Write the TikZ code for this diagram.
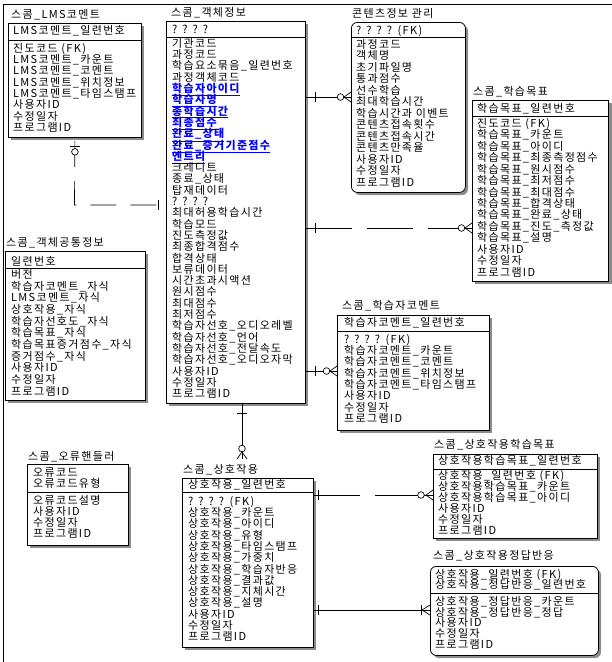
\documentclass[tikz,border=0pt]{standalone}
\usepackage{fontspec}
\setmainfont[LetterSpace=12]{Noto Sans CJK KR}
\newcommand\fsz{\fontsize{11}{11.3}\selectfont}
\newcommand\attfont[1]{\fontsize{11}{#1}\selectfont\lineskiplimit=-20pt\relax}
\tikzset{
  box/.style={draw, line width=0.8pt, fill=white, anchor=north west, inner sep=0pt},
  rbox/.style={box, rounded corners=6pt},
  shd/.style={fill=black!45},
  ttl/.style={anchor=west, inner sep=0pt, font=\fsz},
  hdr/.style={anchor=west, inner sep=0pt, font=\fsz},
  att/.style={anchor=north west, align=left, inner sep=0pt, font=\attfont{#1}},
  sepl/.style={line width=0.8pt},
  rel/.style={line width=0.7pt},
  reld/.style={line width=0.7pt, dash pattern=on 46pt off 15pt},
}
\newcommand\B[1]{{\color{blue}\bfseries\underline{#1}}}
\begin{document}
\begin{tikzpicture}[x=1pt,y=-1pt]
\useasboundingbox (0,0) rectangle (612,662);
\draw[line width=0.8pt] (3,662) -- (3,4) -- (612,4);

% ---------- LMS comment
\fill[shd] (11,26) rectangle (144,140);
\node[box, minimum width=133pt, minimum height=114pt] (lms) at (8,23) {};
\node[ttl] (lmsT) at (11,15) {스콤\_LMS코멘트};
\node[hdr] (lmsK) at (13,31) {LMS코멘트\_일련번호};
\draw[sepl] (lms.west |- 0,40) -- (lms.east |- 0,40);
\node[att=11.3] (lmsA) at (13,43) {진도코드 (FK)\\LMS코멘트\_카운트\\LMS코멘트\_코멘트\\LMS코멘트\_위치정보\\LMS코멘트\_타임스탬프\\사용자ID\\수정일자\\프로그램ID};

% ---------- object info
\fill[shd] (169,24) rectangle (308,406);
\node[box, minimum width=139pt, minimum height=382pt] (obj) at (166,21) {};
\node[ttl] (objT) at (171,13) {스콤\_객체정보};
\node[hdr] (objK) at (172,29) {? ? ? ?};
\draw[sepl] (obj.west |- 0,37) -- (obj.east |- 0,37);
\node[att=11.3] (objA) at (172,38) {기관코드\\과정코드\\학습요소묶음\_일련번호\\과정객체코드\\\B{학습자아이디}\\\B{학습자명}\\\B{총학습시간}\\\B{최종점수}\\\B{완료\_상태}\\\B{완료\_증거기준점수}\\\B{엔트리}\\크레디트\\종료\_상태\\탑재데이터\\? ? ? ?\\최대허용학습시간\\학습모드\\진도측정값\\최종합격점수\\합격상태\\보류데이터\\시간초과시액션\\원시점수\\최대점수\\최저점수\\학습자선호\_오디오레벨\\학습자선호\_언어\\학습자선호\_전달속도\\학습자선호\_오디오자막\\사용자ID\\수정일자\\프로그램ID};

% ---------- contents info
\fill[shd, rounded corners=6pt] (354,25) rectangle (468,195);
\node[rbox, minimum width=114pt, minimum height=170pt] (cont) at (351,22) {};
\node[ttl] (contT) at (352,13) {콘텐츠정보 관리};
\node[hdr] (contK) at (356,31) {? ? ? ?\enspace (FK)};
\draw[sepl] (cont.west |- 0,37) -- (cont.east |- 0,37);
\node[att=11.5] (contA) at (356,39) {과정코드\\객체명\\초기파일명\\통과점수\\선수학습\\최대학습시간\\학습시간과 이벤트\\콘텐츠접속횟수\\콘텐츠접속시간\\콘텐츠만족율\\사용자ID\\수정일자\\프로그램ID};

% ---------- learning objective
\fill[shd] (475,103) rectangle (612,284);
\node[box, minimum width=136pt, minimum height=181pt] (lo) at (472,100) {};
\node[ttl] (loT) at (473,92) {스콤\_학습목표};
\node[hdr] (loK) at (477,109) {학습목표\_일련번호};
\draw[sepl] (lo.west |- 0,116) -- (lo.east |- 0,116);
\node[att=11.46] (loA) at (477,118) {진도코드 (FK)\\학습목표\_카운트\\학습목표\_아이디\\학습목표\_최종측정점수\\학습목표\_원시점수\\학습목표\_최저점수\\학습목표\_최대점수\\학습목표\_합격상태\\학습목표\_완료\_상태\\학습목표\_진도\_측정값\\학습목표\_설명\\사용자ID\\수정일자\\프로그램ID};

% ---------- object common info
\fill[shd] (8,254) rectangle (148,403);
\node[box, minimum width=140pt, minimum height=149pt] (com) at (5,251) {};
\node[ttl] (comT) at (6,243) {스콤\_객체공통정보};
\node[hdr] (comK) at (11,261) {일련번호};
\draw[sepl] (com.west |- 0,268) -- (com.east |- 0,268);
\node[att=11.7] (comA) at (11,269) {버전\\학습자코멘트\_자식\\LMS코멘트\_자식\\상호작용\_자식\\학습자선호도\_자식\\학습목표\_자식\\학습목표증거점수\_자식\\증거점수\_자식\\사용자ID\\수정일자\\프로그램ID};

% ---------- learner comment
\fill[shd] (340,318) rectangle (492,433);
\node[box, minimum width=152pt, minimum height=115pt] (lc) at (337,315) {};
\node[ttl] (lcT) at (342,306) {스콤\_학습자코멘트};
\node[hdr] (lcK) at (344,323) {학습자코멘트\_일련번호};
\draw[sepl] (lc.west |- 0,331) -- (lc.east |- 0,331);
\node[att=11.3] (lcA) at (344,334) {? ? ? ?\enspace (FK)\\학습자코멘트\_카운트\\학습자코멘트\_코멘트\\학습자코멘트\_위치정보\\학습자코멘트\_타임스탬프\\사용자ID\\수정일자\\프로그램ID};

% ---------- error handler
\fill[shd] (30,467) rectangle (131,548);
\node[box, minimum width=101pt, minimum height=81pt] (err) at (27,464) {};
\node[ttl] (errT) at (28,457) {스콤\_오류핸들러};
\node[att=10.6] (errK) at (33,468) {오류코드\\오류코드유형};
\draw[sepl] (err.west |- 0,492) -- (err.east |- 0,492);
\node[att=11] (errA) at (33,495) {오류코드설명\\사용자ID\\수정일자\\프로그램ID};

% ---------- interaction
\fill[shd] (185,481) rectangle (316,650);
\node[box, minimum width=131pt, minimum height=169pt] (int) at (182,478) {};
\node[ttl] (intT) at (183,470) {스콤\_상호작용};
\node[hdr] (intK) at (188,485) {상호작용\_일련번호};
\draw[sepl] (int.west |- 0,492) -- (int.east |- 0,492);
\node[att=11.3] (intA) at (188,496) {? ? ? ?\enspace (FK)\\상호작용\_카운트\\상호작용\_아이디\\상호작용\_유형\\상호작용\_타임스탬프\\상호작용\_가중치\\상호작용\_학습자반응\\상호작용\_결과값\\상호작용\_지체시간\\상호작용\_설명\\사용자ID\\수정일자\\프로그램ID};

% ---------- interaction learning objective
\fill[shd] (436,457) rectangle (600,541);
\node[box, minimum width=164pt, minimum height=84pt] (ilo) at (433,454) {};
\node[ttl] (iloT) at (434,445) {스콤\_상호작용학습목표};
\node[hdr] (iloK) at (438,461) {상호작용학습목표\_일련번호};
\draw[sepl] (ilo.west |- 0,469) -- (ilo.east |- 0,469);
\node[att=11] (iloA) at (438,470) {상호작용\_일련번호 (FK)\\상호작용학습목표\_카운트\\상호작용학습목표\_아이디\\사용자ID\\수정일자\\프로그램ID};

% ---------- interaction correct response
\fill[shd, rounded corners=6pt] (433,569) rectangle (601,658);
\node[rbox, minimum width=168pt, minimum height=89pt] (ans) at (430,566) {};
\node[ttl] (ansT) at (433,556) {스콤\_상호작용정답반응};
\node[att=10.2] (ansK) at (435,569) {상호작용\_일련번호 (FK)\\상호작용\_정답반응\_일련번호};
\draw[sepl] (ans.west |- 0,593) -- (ans.east |- 0,593);
\node[att=10.8] (ansA) at (435,596) {상호작용\_정답반응\_카운트\\상호작용\_정답반응\_정답\\사용자ID\\수정일자\\프로그램ID};

% ================= connectors
% LMS -> object
\coordinate (k1) at (74.5,205);
\draw[line width=0.7pt, dash pattern=on 26pt off 14pt] ([yshift=-3pt]lms.south) -- (k1) -- (k1 -| obj.west);
\draw[rel] ([yshift=-9pt]lms.south) ++(-5,0) -- ++(10,0);
\draw[rel, fill=white] ([yshift=-14pt]lms.south) circle (3.3);
\draw[rel] (k1 -| obj.west) ++(-8,-5) -- ++(0,10);

% object -> contents (identifying)
\coordinate (k2) at (0,97);
\draw[rel] (obj.east |- k2) -- (cont.west |- k2);
\draw[rel] (obj.east |- k2) ++(10,-5) -- ++(0,10);
\draw[rel] (cont.west |- k2) ++(0,-5) -- ++(-7,5) -- ++(7,5);
\draw[rel, fill=white] (cont.west |- k2) ++(-10.5,0) circle (3.3);

% object -> learning objective
\coordinate (k3) at (0,228);
\draw[reld] (obj.east |- k3) -- (lo.west |- k3);
\draw[rel] (obj.east |- k3) ++(10,-5) -- ++(0,10);
\draw[rel] (lo.west |- k3) ++(-14,0) -- (lo.west |- k3);
\draw[rel] (lo.west |- k3) ++(0,-5) -- ++(-7,5) -- ++(7,5);
\draw[rel, fill=white] (lo.west |- k3) ++(-10.5,0) circle (3.3);

% object -> learner comment
\coordinate (k4) at (0,371);
\draw[rel] (obj.east |- k4) -- (lc.west |- k4);
\draw[rel] (obj.east |- k4) ++(10,-5) -- ++(0,10);
\draw[rel] (lc.west |- k4) ++(0,-5) -- ++(-7,5) -- ++(7,5);
\draw[rel, fill=white] (lc.west |- k4) ++(-10.5,0) circle (3.3);

% object -> interaction
\coordinate (k5) at (242,0);
\coordinate (k5e) at (242,459);
\draw[rel] (obj.south -| k5) -- (k5e);
\draw[rel] ([yshift=-10pt]obj.south -| k5) ++(-5,0) -- ++(10,0);
\draw[rel] (k5e) ++(-5,0) -- ++(5,-7) -- ++(5,7);
\draw[rel, fill=white] (k5e) ++(0,-10.5) circle (3.3);

% interaction -> interaction learning objective
\coordinate (k6) at (0,495);
\draw[reld] (int.east |- k6) -- (ilo.west |- k6);
\draw[rel] (ilo.west |- k6) ++(-18,0) -- (ilo.west |- k6);
\draw[rel] (int.east |- k6) ++(5,-5) -- ++(0,10);
\draw[rel] (ilo.west |- k6) ++(0,-5) -- ++(-7,5) -- ++(7,5);
\draw[rel, fill=white] (ilo.west |- k6) ++(-12,0) circle (3.3);

% interaction -> correct response (identifying)
\coordinate (k7) at (0,610);
\draw[rel] (int.east |- k7) -- (ans.west |- k7);
\draw[rel] (int.east |- k7) ++(5,-5) -- ++(0,10);
\draw[rel] (ans.west |- k7) ++(0,-5) -- ++(-8,5) -- ++(8,5);
\draw[rel] (ans.west |- k7) ++(-9,-5) -- ++(0,10);
\end{tikzpicture}
\end{document}
